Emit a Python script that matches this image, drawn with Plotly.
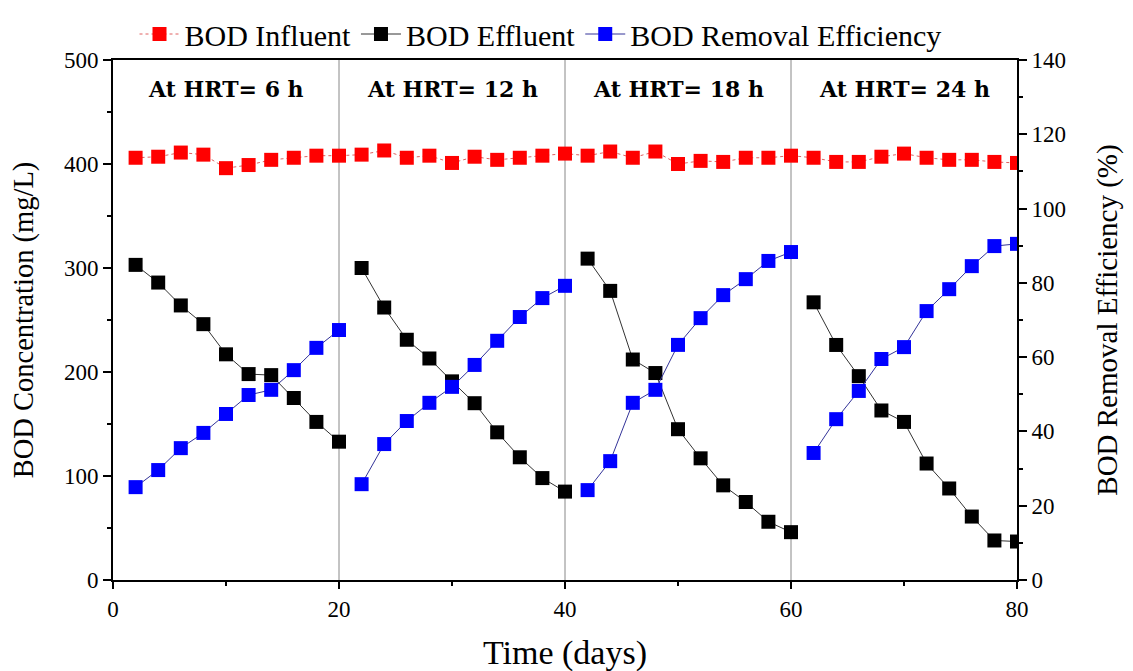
import plotly.graph_objects as go

days = list(range(2, 82, 2))

bod_influent = [406, 407, 411, 409, 396, 399, 404, 406, 408, 408,
                409, 413, 406, 408, 401, 407, 404, 406, 408, 410,
                408, 412, 406, 412, 400, 403, 402, 406, 406, 408,
                406, 402, 402, 407, 410, 406, 404, 404, 402, 401]

bod_effluent = [303, 286, 264, 246, 217, 198, 197, 175, 152, 133,
                300, 262, 231, 213, 191, 170, 142, 118, 98, 85,
                309, 278, 212, 199, 145, 117, 91, 75, 56, 46,
                267, 226, 196, 163, 152, 112, 88, 61, 38, 37]

removal_eff = [25.0, 29.6, 35.5, 39.6, 44.7, 49.8, 51.2, 56.5, 62.5, 67.3,
               25.8, 36.6, 42.8, 47.7, 52.0, 57.9, 64.4, 70.8, 75.9, 79.2,
               24.2, 32.0, 47.7, 51.2, 63.3, 70.5, 76.7, 81.0, 85.9, 88.3,
               34.2, 43.3, 50.9, 59.5, 62.7, 72.4, 78.3, 84.5, 89.9, 90.5]

phase_labels = ["At HRT= 6 h", "At HRT= 12 h", "At HRT= 18 h", "At HRT= 24 h"]
phase_centers = [10, 30, 50, 70]
phase_bounds = [20, 40, 60]


def split_segments(x, y, seg_len=10):
    xs, ys = [], []
    for i in range(0, len(x), seg_len):
        xs += x[i:i + seg_len] + [None]
        ys += y[i:i + seg_len] + [None]
    return xs, ys


FONT = "Liberation Serif, Times New Roman, serif"
BOLD_FONT = "DejaVu Serif, serif"

fig = go.Figure()

fig.add_trace(go.Scatter(
    x=days, y=bod_influent, name="BOD Influent", mode="lines+markers",
    line=dict(color="#e06060", width=1, dash="dot"),
    marker=dict(symbol="square", size=14, color="#ff0000"),
))

ex, ey = split_segments(days, bod_effluent)
fig.add_trace(go.Scatter(
    x=ex, y=ey, name="BOD Effluent", mode="lines+markers",
    line=dict(color="#333333", width=1),
    marker=dict(symbol="square", size=14, color="#000000"),
))

rx, ry = split_segments(days, removal_eff)
fig.add_trace(go.Scatter(
    x=rx, y=ry, name="BOD Removal Efficiency", mode="lines+markers",
    line=dict(color="#333399", width=1),
    marker=dict(symbol="square", size=14, color="#0000ff"),
    yaxis="y2",
))

shapes = []
for b in phase_bounds:
    shapes.append(dict(type="line", xref="x", yref="paper", x0=b, x1=b, y0=0, y1=1,
                       line=dict(color="#888888", width=1), layer="below"))

annotations = []
for lbl, c in zip(phase_labels, phase_centers):
    annotations.append(dict(x=c, y=472, xref="x", yref="y", text="<b>" + lbl + "</b>",
                            showarrow=False, font=dict(family=BOLD_FONT, size=22, color="black")))

fig.update_layout(
    width=1133, height=671,
    margin=dict(l=105, r=124, t=52, b=99, autoexpand=False),
    paper_bgcolor="white", plot_bgcolor="white",
    font=dict(family=FONT, color="black"),
    showlegend=True,
    legend=dict(orientation="h", x=0.47, xanchor="center", xref="container",
                y=1.0, yanchor="top", yref="container",
                font=dict(family=FONT, size=30, color="black"),
                itemwidth=40, tracegroupgap=0, bgcolor="rgba(0,0,0,0)"),
    xaxis=dict(range=[0, 80], tickvals=[0, 20, 40, 60, 80], showgrid=False, zeroline=False,
               showline=True, linecolor="black", linewidth=2, mirror=True,
               ticks="outside", ticklen=7, tickwidth=2, tickcolor="black",
               minor=dict(tickvals=[10, 30, 50, 70], ticks="outside", ticklen=4, tickwidth=2, tickcolor="black"),
               tickfont=dict(family=FONT, size=23),
               title=dict(text="Time (days)", font=dict(family=FONT, size=34), standoff=20)),
    yaxis=dict(range=[0, 500], tickvals=[0, 100, 200, 300, 400, 500], showgrid=False, zeroline=False,
               showline=True, linecolor="black", linewidth=2,
               ticks="outside", ticklen=8, tickwidth=2, tickcolor="black",
               minor=dict(tickvals=[50, 150, 250, 350, 450], ticks="outside", ticklen=4, tickwidth=2, tickcolor="black"),
               tickfont=dict(family=FONT, size=23),
               title=dict(text="BOD Concentration (mg/L)", font=dict(family=FONT, size=28.5), standoff=22)),
    yaxis2=dict(range=[0, 140], tickvals=[0, 20, 40, 60, 80, 100, 120, 140], overlaying="y", side="right",
                showgrid=False, zeroline=False, showline=True, linecolor="black", linewidth=2,
                ticks="outside", ticklen=8, tickwidth=2, tickcolor="black",
                minor=dict(tickvals=[10, 30, 50, 70, 90, 110, 130], ticks="outside", ticklen=4, tickwidth=2, tickcolor="black"),
                tickfont=dict(family=FONT, size=23),
                title=dict(text="BOD Removal Efficiency (%)", font=dict(family=FONT, size=29), standoff=32)),
    shapes=shapes,
    annotations=annotations,
)

fig.write_html("out.html")
